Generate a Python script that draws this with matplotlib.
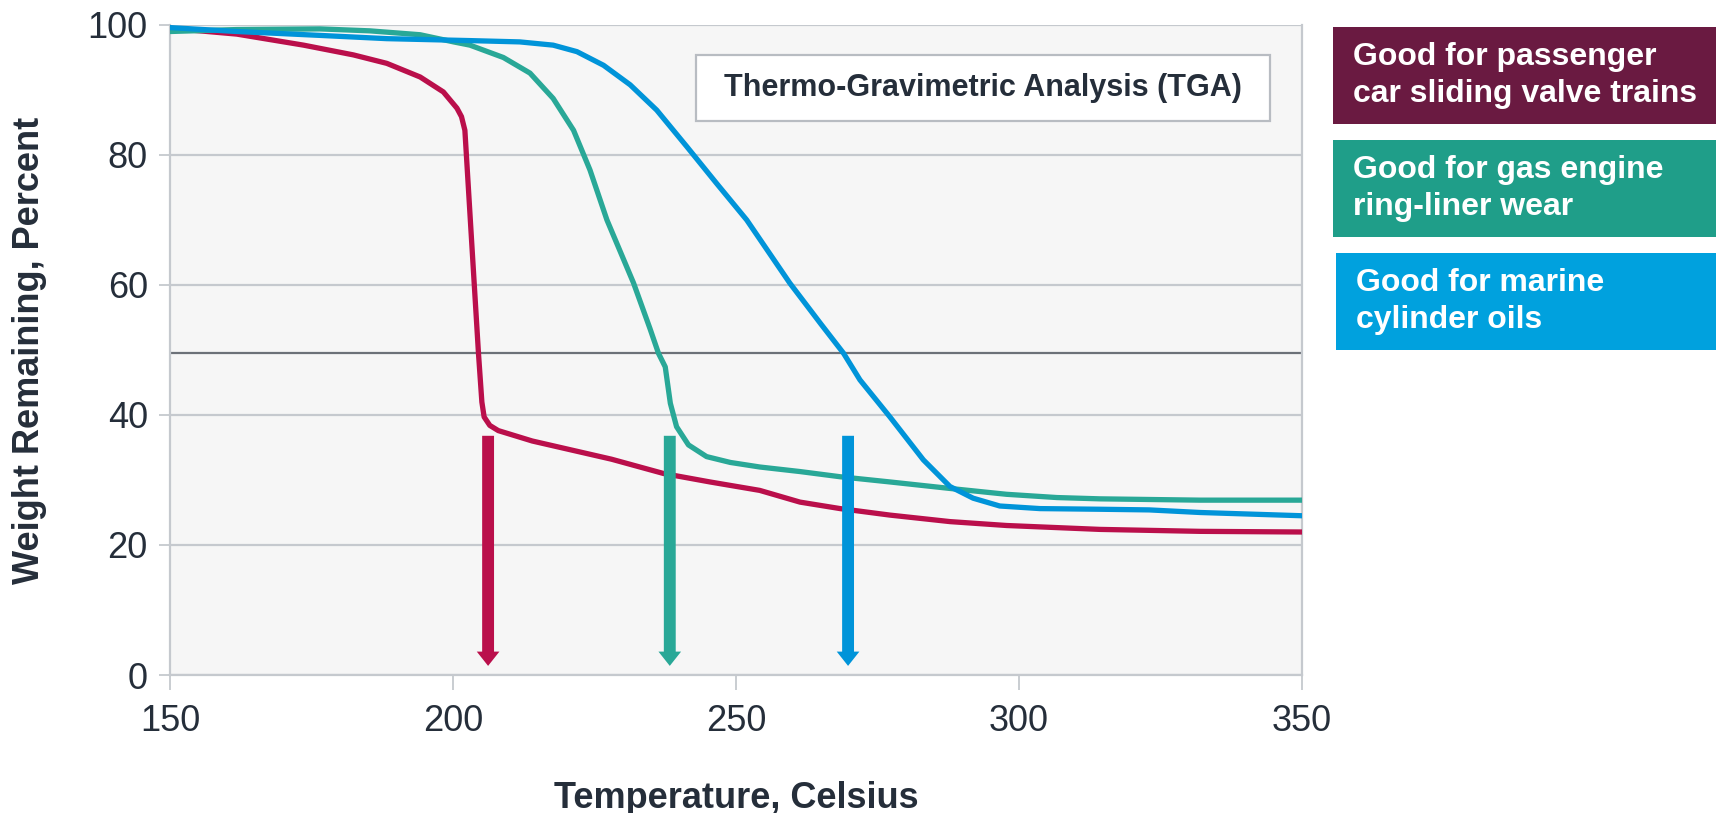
import matplotlib
matplotlib.use("Agg")
import matplotlib.pyplot as plt
from matplotlib.patches import Rectangle

plt.rcParams['font.family'] = ['Liberation Sans', 'DejaVu Sans']

# TGA curves (temperature in Celsius, weight remaining in %)
red_t = [150, 161.8, 173.6, 182.4, 188.3, 194.2, 198.3, 200.7, 201.5, 202.1, 203.3, 204.5,
         205.1, 205.5, 206.5, 208, 209.5, 214, 219.5, 228, 237.2, 245.4, 254.2, 261.3,
         268.4, 277.2, 287.8, 297.8, 314.3, 332, 350]
red_w = [99.5, 98.6, 96.9, 95.4, 94.1, 92.0, 89.7, 87.2, 85.9, 83.8, 66.6, 49.5,
         42.0, 39.7, 38.4, 37.6, 37.2, 36.0, 34.9, 33.2, 31.0, 29.7, 28.4, 26.6,
         25.6, 24.6, 23.6, 23.0, 22.4, 22.1, 22.0]

green_t = [150, 161.8, 176.5, 185.3, 194.2, 200.1, 203, 208.9, 213.6, 217.7, 221.3, 224.2,
           227.2, 231.9, 234.8, 236.3, 237.5, 238.4, 239.5, 241.6, 244.8, 249, 254.2, 261.3,
           268.4, 277.2, 287.8, 297.8, 306.7, 314.3, 332, 350]
green_w = [99.0, 99.3, 99.4, 99.1, 98.5, 97.4, 96.9, 95.0, 92.6, 88.7, 83.8, 77.7,
           70.0, 60.3, 53.3, 49.5, 47.4, 41.8, 38.2, 35.4, 33.6, 32.7, 32.0, 31.3,
           30.5, 29.7, 28.7, 27.8, 27.3, 27.1, 26.9, 26.9]

blue_t = [150, 161.8, 176.5, 188.3, 203, 211.8, 217.7, 221.9, 226.6, 231.3, 236, 241.3,
          246.6, 251.9, 259.5, 265, 269, 271.9, 277.2, 283.1, 287.8, 291.9, 296.6, 303.7,
          314.3, 323, 332, 350]
blue_w = [99.6, 99.0, 98.4, 97.9, 97.6, 97.4, 96.9, 95.9, 93.8, 90.8, 86.9, 81.3,
          75.6, 70.0, 60.3, 54.0, 49.5, 45.4, 39.7, 33.1, 29.0, 27.2, 26.0, 25.6,
          25.5, 25.4, 25.0, 24.5]

# 50% reference line and the arrow positions
half_line = 49.5
arrow_t = [206.2, 238.3, 269.8]
arrow_top = 36.8
arrow_tip = 1.4

x_ticks = [150, 200, 250, 300, 350]
y_ticks = [0, 20, 40, 60, 80, 100]

labels = ["Good for passenger\ncar sliding valve trains",
          "Good for gas engine\nring-liner wear",
          "Good for marine\ncylinder oils"]

red = '#BA0F4B'
green = '#29A897'
blue = '#0094D9'
box_colors = ['#6A1A41', '#1F9E89', '#00A1DE']
text_dark = '#252E3A'
grid_grey = '#C5C9CE'

fig = plt.figure(figsize=(17.16, 8.13), dpi=100)
ax = fig.add_axes([170 / 1716, 138 / 813, 1132 / 1716, 650 / 813])
ax.set_facecolor('#F6F6F6')

ax.set_xlim(150, 350)
ax.set_ylim(0, 100)
ax.set_xticks(x_ticks)
ax.set_yticks(y_ticks)
ax.grid(axis='y', color=grid_grey, lw=1.6)
ax.set_axisbelow(True)
for s in ax.spines.values():
    s.set_color(grid_grey)
    s.set_linewidth(1.6)
ax.spines['top'].set_visible(False)

ax.tick_params(axis='x', length=11, width=1.3, color=grid_grey, pad=10,
               labelsize=26, labelcolor=text_dark)
ax.tick_params(axis='y', length=8, width=1.3, color=grid_grey, pad=8,
               labelsize=26, labelcolor=text_dark)

ax.axhline(half_line, color='#6C7178', lw=1.6, zorder=2)

for t, w, c in [(red_t, red_w, red), (green_t, green_w, green), (blue_t, blue_w, blue)]:
    ax.plot(t, w, color=c, lw=3.8, zorder=3, solid_joinstyle='round')

for t, c in zip(arrow_t, [red, green, blue]):
    ax.arrow(t, arrow_top, 0, arrow_tip - arrow_top, width=2.1, head_width=4.0,
             head_length=2.2, length_includes_head=True, color=c, lw=0, zorder=4)

ax.set_xlabel("Temperature, Celsius", fontsize=26, fontweight='bold', color=text_dark,
              va='center')
ax.xaxis.set_label_coords(0.5, -0.19)
ax.set_ylabel("Weight Remaining, Percent", fontsize=26, fontweight='bold', color=text_dark,
              va='center')
ax.yaxis.set_label_coords(-0.1237, 0.5)

# title box inside the plot
ax.add_patch(Rectangle((0.4647, 0.852), 0.507, 0.1015, transform=ax.transAxes,
                       facecolor='white', edgecolor='#B8BCC2', lw=1.6, zorder=5))
ax.text(0.718, 0.903, "Thermo-Gravimetric Analysis (TGA)", transform=ax.transAxes,
        ha='center', va='center', fontsize=22, fontweight='bold', color=text_dark, zorder=6)

# coloured boxes on the right
box_y = [(813 - 124) / 813, (813 - 237) / 813, (813 - 350) / 813]
box_x = [1333 / 1716, 1333 / 1716, 1336 / 1716]
box_h = 97 / 813
for lab, bx, by, bc in zip(labels, box_x, box_y, box_colors):
    fig.patches.append(Rectangle((bx, by), 1 - bx, box_h, transform=fig.transFigure,
                                 facecolor=bc, edgecolor='none'))
    fig.text(bx + 20 / 1716, by + box_h / 2, lab, ha='left', va='center', fontsize=23,
             fontweight='bold', color='white', linespacing=1.3)

fig.savefig('out.png', dpi=100)
